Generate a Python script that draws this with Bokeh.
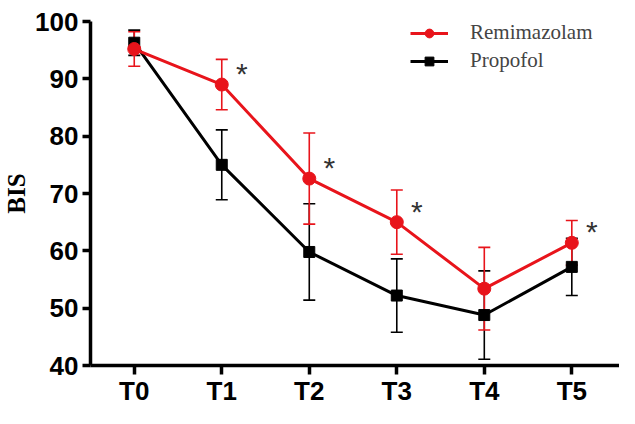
from bokeh.plotting import figure
from bokeh.models import (ColumnDataSource, Range1d, FixedTicker, Whisker,
                          Legend, LegendItem, TeeHead)
from bokeh.core.properties import value
from bokeh.embed import file_html
from bokeh.resources import INLINE

# ---- data ----
time_labels = ["T0", "T1", "T2", "T3", "T4", "T5"]
remi_mean = [95.2, 89.0, 72.6, 65.0, 53.4, 61.4]
remi_sd = [3.0, 4.4, 7.95, 5.6, 7.2, 3.9]
prop_mean = [96.3, 75.0, 59.8, 52.2, 48.8, 57.2]
prop_sd = [2.2, 6.1, 8.4, 6.4, 7.7, 5.0]
sig_labels = ["T1", "T2", "T3", "T5"]
y_ticks = [40, 50, 60, 70, 80, 90, 100]

xs = list(range(len(time_labels)))

def src(mean, sd):
    return ColumnDataSource(dict(
        x=xs, y=mean,
        lo=[m - s for m, s in zip(mean, sd)],
        hi=[m + s for m, s in zip(mean, sd)],
    ))

remi_src = src(remi_mean, remi_sd)
prop_src = src(prop_mean, prop_sd)

sig_idx = [time_labels.index(t) for t in sig_labels]
star_src = ColumnDataSource(dict(
    x=sig_idx,
    y=[remi_mean[i] for i in sig_idx],
    t=["*"] * len(sig_idx),
))

y_lo, y_hi = y_ticks[0], y_ticks[-1]

p = figure(width=619, height=408, output_backend="svg", toolbar_location=None,
           x_range=Range1d(-0.5, 5.545), y_range=Range1d(y_lo, y_hi),
           min_border_left=87, min_border_top=21, min_border_bottom=0,
           min_border_right=0)
p.outline_line_color = None
p.grid.visible = False
p.background_fill_color = "white"
p.border_fill_color = "white"

RED = "#e8141b"
BLACK = "#000000"

# propofol (drawn first)
p.add_layout(Whisker(source=prop_src, base="x", lower="lo", upper="hi",
                     line_color=BLACK, line_width=1.6,
                     upper_head=TeeHead(size=12, line_color=BLACK, line_width=1.6),
                     lower_head=TeeHead(size=12, line_color=BLACK, line_width=1.6)))
pl = p.line("x", "y", source=prop_src, line_color=BLACK, line_width=3)
ps = p.scatter("x", "y", source=prop_src, marker="square", size=11,
               fill_color=BLACK, line_color=BLACK)

# remimazolam
p.add_layout(Whisker(source=remi_src, base="x", lower="lo", upper="hi",
                     line_color=RED, line_width=1.6,
                     upper_head=TeeHead(size=12, line_color=RED, line_width=1.6),
                     lower_head=TeeHead(size=12, line_color=RED, line_width=1.6)))
rl = p.line("x", "y", source=remi_src, line_color=RED, line_width=3)
rs = p.scatter("x", "y", source=remi_src, marker="circle", size=13,
               fill_color=RED, line_color=RED)

# significance stars
p.text("x", "y", text="t", source=star_src, x_offset=20, y_offset=-11,
       text_font=value("Liberation Sans"), text_font_size="30px",
       text_color="#333333", text_align="center", text_baseline="middle")

# axes
for ax in (p.xaxis[0], p.yaxis[0]):
    ax.axis_line_width = 3.5
    ax.axis_line_color = BLACK
    ax.major_tick_line_width = 3.5
    ax.major_tick_line_color = BLACK
    ax.major_tick_in = 0
    ax.minor_tick_line_color = None
    ax.major_label_text_font = "Liberation Sans"
    ax.major_label_text_font_style = "bold"
    ax.major_label_text_font_size = "26px"
    ax.major_label_text_color = BLACK

p.xaxis.ticker = FixedTicker(ticks=xs)
p.xaxis.major_label_overrides = {i: t for i, t in enumerate(time_labels)}
p.xaxis.major_tick_out = 9
p.xaxis.major_label_standoff = 1

p.yaxis.ticker = FixedTicker(ticks=y_ticks)
p.yaxis.major_tick_out = 8
p.yaxis.major_label_standoff = 4
p.yaxis.axis_label = "BIS"
p.yaxis.axis_label_text_font = "Liberation Serif"
p.yaxis.axis_label_text_font_style = "bold"
p.yaxis.axis_label_text_font_size = "25px"
p.yaxis.axis_label_text_color = BLACK
p.yaxis.axis_label_standoff = 2

legend = Legend(items=[LegendItem(label="Remimazolam", renderers=[rl, rs]),
                       LegendItem(label="Propofol", renderers=[pl, ps])],
                location=(320, 292), orientation="vertical",
                label_text_font="Liberation Serif", label_text_font_size="21px",
                label_standoff=22, glyph_width=38, glyph_height=22,
                spacing=3, padding=0, margin=0,
                border_line_color=None, background_fill_alpha=0)
p.add_layout(legend)

open("out.html", "w").write(file_html(p, INLINE))
